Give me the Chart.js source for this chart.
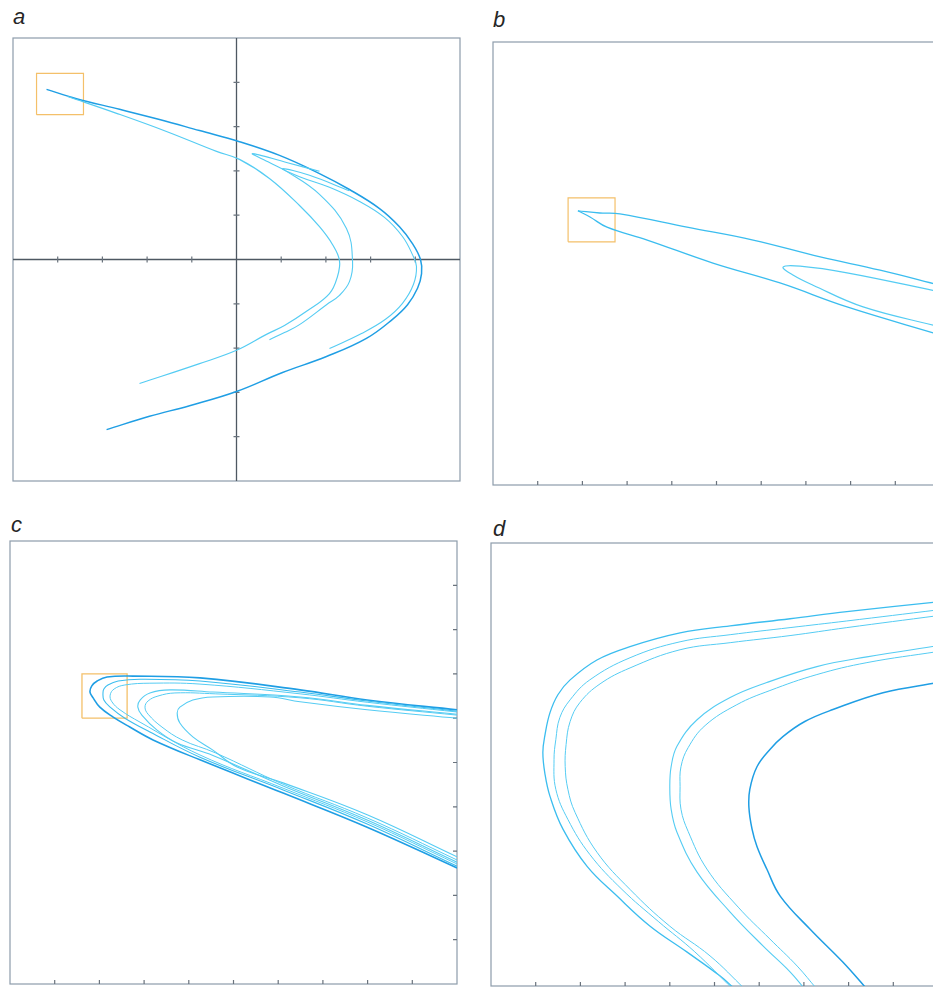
<!DOCTYPE html>
<html>
<head>
<meta charset="utf-8">
<title>Hénon attractor, successive enlargements</title>
<script src="https://cdn.jsdelivr.net/npm/chart.js@4.4.1/dist/chart.umd.min.js"></script>
<style>
  html, body { margin: 0; padding: 0; background: #fff; overflow: hidden; }
  body { width: 933px; height: 990px; position: relative; }
  .panel { position: absolute; width: 459px; height: 455px; }
  .lbl { position: absolute; font-family: "Liberation Sans", Arial, sans-serif; font-style: italic;
         font-size: 22px; line-height: 22px; color: #262626; }
</style>
</head>
<body>
<div class="lbl" style="left:13px;top:6px">a</div>
<div class="lbl" style="left:493px;top:9px">b</div>
<div class="lbl" style="left:11px;top:514px">c</div>
<div class="lbl" style="left:493px;top:518px">d</div>

<div class="panel" style="left:7px;top:32px"><canvas id="chartA"></canvas></div>
<div class="panel" style="left:487px;top:36px"><canvas id="chartB"></canvas></div>
<div class="panel" style="left:4px;top:535px"><canvas id="chartC"></canvas></div>
<div class="panel" style="left:485px;top:537px"><canvas id="chartD"></canvas></div>

<script>
// panel a: whole attractor (x, y)
const aOuter = [[-1.275,0.384],[-1.074,0.363],[-0.785,0.339],[-0.517,0.316],[-0.248,0.291],[0.020,0.266],
  [0.289,0.235],[0.557,0.194],[0.758,0.158],[0.960,0.115],[1.094,0.074],[1.181,0.036],[1.235,0.000],
  [1.242,-0.032],[1.215,-0.065],[1.148,-0.102],[1.047,-0.135],[0.872,-0.178],[0.604,-0.219],[0.309,-0.255],
  [0.000,-0.298],[-0.315,-0.330],[-0.584,-0.354],[-0.872,-0.384]];
const aOuter2 = [[0.758,0.155],[0.490,0.190],[0.309,0.205],[0.423,0.187],[0.624,0.163],[0.826,0.131],
  [0.993,0.095],[1.114,0.052],[1.181,0.011],[1.208,-0.016],[1.188,-0.056],[1.114,-0.099],[1.000,-0.135],
  [0.839,-0.167],[0.624,-0.201]];
const aMid = [[0.557,0.199],[0.336,0.219],[0.107,0.239],[0.221,0.219],[0.336,0.199],[0.557,0.147],
  [0.738,0.070],[0.779,-0.005],[0.758,-0.050],[0.691,-0.081],[0.604,-0.102],[0.423,-0.147],[0.322,-0.165],
  [0.221,-0.181]];
const aInner = [[-1.134,0.368],[-0.805,0.330],[-0.470,0.289],[-0.134,0.244],[0.020,0.226],[0.221,0.183],
  [0.423,0.122],[0.557,0.074],[0.644,0.034],[0.691,-0.002],[0.678,-0.038],[0.624,-0.077],[0.470,-0.117],
  [0.322,-0.149],[0.201,-0.169],[0.000,-0.205],[-0.248,-0.235],[-0.651,-0.280]];
const aBox = [[-1.342,0.327],[-1.027,0.327],[-1.027,0.420],[-1.342,0.420],[-1.342,0.327]];
const aTicksX = [-1.2,-0.9,-0.6,-0.3,0.3,0.6,0.9,1.2];
const aTicksY = [-0.4,-0.3,-0.2,-0.1,0.1,0.2,0.3,0.4];

// panel b: enlargement of the box in a (frame units 0..10)
const bUpper = [[1.90,6.19],[2.39,6.14],[2.84,6.12],[4.34,5.82],[5.82,5.53],[7.32,5.15],[8.66,4.85],[10.0,4.51]];
const bLower = [[1.90,6.19],[2.17,6.05],[2.55,5.82],[3.45,5.53],[4.92,5.01],[6.42,4.56],[7.92,4.02],[10.0,3.39]];
const bFold = [[10.0,4.36],[7.92,4.79],[6.87,4.94],[6.49,4.92],[6.71,4.74],[7.16,4.51],[8.28,4.02],[10.0,3.57]];
const bBox = [[1.68,5.49],[2.73,5.49],[2.73,6.48],[1.68,6.48],[1.68,5.49]];
const bTicksX = [1,2,3,4,5,6,7,8,9];

// panel c: enlargement of the box in b
const c1 = [[10,6.19],[7.99,6.41],[6.49,6.64],[4.25,6.91],[2.75,6.95],[2.17,6.93],[1.95,6.84],[1.83,6.73],
  [1.79,6.59],[1.86,6.46],[2.01,6.25],[2.30,6.03],[2.68,5.80],[3.20,5.51],[4.25,5.06],[6.11,4.31],[7.99,3.54],[10,2.62]];
const c2 = [[10,6.16],[7.99,6.39],[6.49,6.59],[4.25,6.84],[2.91,6.88],[2.42,6.84],[2.19,6.75],[2.10,6.66],
  [2.08,6.57],[2.10,6.41],[2.24,6.25],[2.57,6.00],[3.13,5.69],[4.25,5.12],[6.11,4.38],[7.99,3.61],[10,2.66]];
const c3 = [[10,6.14],[7.99,6.36],[6.49,6.55],[4.25,6.77],[3.13,6.79],[2.57,6.75],[2.33,6.66],[2.24,6.52],
  [2.28,6.37],[2.46,6.19],[2.91,5.91],[4.25,5.17],[6.11,4.42],[7.99,3.66],[10,2.71]];
const c4 = [[10,6.09],[7.99,6.29],[6.49,6.48],[4.54,6.59],[3.58,6.64],[3.13,6.57],[2.91,6.41],[2.86,6.25],
  [2.95,6.07],[3.29,5.73],[3.74,5.44],[4.54,5.16],[6.11,4.47],[7.99,3.70],[10,2.75]];
const c5 = [[10,6.07],[7.99,6.27],[6.49,6.46],[4.59,6.55],[3.69,6.57],[3.31,6.50],[3.09,6.39],[3.02,6.25],
  [3.09,6.09],[3.40,5.80],[3.85,5.51],[4.59,5.22],[6.11,4.51],[7.99,3.75],[10,2.80]];
const c6 = [[10,6.00],[7.99,6.19],[6.49,6.37],[5.82,6.48],[4.54,6.48],[4.09,6.41],[3.80,6.25],[3.74,6.12],
  [3.80,5.89],[4.09,5.58],[4.54,5.28],[5.08,4.90],[6.11,4.54],[7.99,3.82],[10,2.87]];
const cBox = [[1.61,6.00],[2.62,6.00],[2.62,7.00],[1.61,7.00],[1.61,6.00]];
const cTicksX = [1,2,3,4,5,6,7,8,9];
const cTicksY = [1,2,3,4,5,6,7,8,9];

// panel d: enlargement of the box in c
const dOuter1 = [[10,8.67],[7.96,8.45],[6.69,8.29],[5.35,8.13],[4.23,7.97],[3.11,7.66],[2.37,7.36],[1.77,6.91],
  [1.50,6.58],[1.32,6.17],[1.21,5.68],[1.16,5.27],[1.21,4.77],[1.32,4.28],[1.61,3.54],[2.15,2.70],[2.82,2.03],
  [3.56,1.35],[4.38,0.77],[5.12,0.23],[5.46,-0.07]];
const dOuter2 = [[10,8.49],[7.96,8.24],[6.69,8.09],[5.35,7.93],[4.23,7.77],[3.11,7.41],[2.21,6.91],[1.77,6.46],
  [1.54,6.06],[1.45,5.56],[1.41,5.11],[1.45,4.44],[1.72,3.76],[2.21,2.97],[2.93,2.18],[3.74,1.46],[4.56,0.77],[5.41,-0.07]];
const dOuter3 = [[10,8.36],[7.96,8.09],[6.69,7.91],[5.35,7.75],[4.23,7.59],[3.11,7.18],[2.44,6.82],[1.99,6.40],
  [1.77,5.97],[1.68,5.45],[1.66,4.95],[1.72,4.44],[1.88,3.92],[2.37,3.02],[3.11,2.18],[4.00,1.35],[4.90,0.68],[5.68,-0.07]];
const dMid1 = [[10,7.68],[8.41,7.43],[7.29,7.21],[6.17,6.85],[5.35,6.51],[4.61,6.01],[4.16,5.41],[4.03,4.95],
  [4.00,4.50],[4.03,3.99],[4.16,3.47],[4.61,2.57],[5.35,1.67],[6.09,0.90],[6.69,0.32],[7.02,-0.07]];
const dMid2 = [[10,7.55],[8.41,7.30],[7.29,7.03],[6.24,6.67],[5.50,6.35],[4.79,5.88],[4.41,5.38],[4.25,4.95],
  [4.23,4.50],[4.25,3.99],[4.41,3.49],[4.83,2.64],[5.53,1.78],[6.24,1.06],[6.85,0.45],[7.29,-0.07]];
const dInner = [[10,6.85],[8.77,6.62],[7.65,6.24],[7.02,5.97],[6.53,5.63],[6.24,5.34],[5.95,4.95],[5.79,4.44],
  [5.77,4.03],[5.84,3.54],[5.95,3.15],[6.17,2.64],[6.47,2.03],[7.14,1.28],[7.87,0.54],[8.41,-0.07]];
const dTicksX = [1,2,3,4,5,6,7,8,9];

const DARK = '#1f9ee4';
const MID = '#3bbdef';
const LIGHT = '#55ccf3';
const BOX = '#f4c06a';
const FRAME = '#8d9cab';
const AXIS = '#4e5862';
const TICK = '#6a737d';

function line(pts, color, width, tension = 0.4) {
  return {
    data: pts.map(p => ({ x: p[0], y: p[1] })),
    showLine: true, borderColor: color, borderWidth: width,
    pointRadius: 0, tension: tension, fill: false
  };
}

// frame, axes through the origin and the little tick marks
const panelDeco = {
  id: 'panelDeco',
  beforeDatasetsDraw(chart, args, opts) {
    const { ctx, chartArea: ca, scales: { x, y } } = chart;
    ctx.save();
    ctx.strokeStyle = FRAME;
    ctx.lineWidth = 1.2;
    ctx.strokeRect(ca.left, ca.top, ca.right - ca.left, ca.bottom - ca.top);
    if (opts.zeroAxes) {
      const x0 = x.getPixelForValue(0), y0 = y.getPixelForValue(0);
      ctx.strokeStyle = AXIS;
      ctx.lineWidth = 1.3;
      ctx.beginPath();
      ctx.moveTo(ca.left, y0); ctx.lineTo(ca.right, y0);
      ctx.moveTo(x0, ca.top); ctx.lineTo(x0, ca.bottom);
      ctx.stroke();
    }
    ctx.strokeStyle = TICK;
    ctx.lineWidth = 1.2;
    (opts.ticks || []).forEach(t => {
      ctx.beginPath();
      t.values.forEach(v => {
        const both = t.at === 'zero' ? t.len : 0;
        if (t.axis === 'x') {
          const px = x.getPixelForValue(v);
          const base = t.at === 'zero' ? y.getPixelForValue(0) : ca.bottom;
          ctx.moveTo(px, base - t.len); ctx.lineTo(px, base + both);
        } else {
          const py = y.getPixelForValue(v);
          const base = t.at === 'zero' ? x.getPixelForValue(0) : ca.right;
          ctx.moveTo(base - t.len, py); ctx.lineTo(base + both, py);
        }
      });
      ctx.stroke();
    });
    ctx.restore();
  }
};

function makePanel(id, datasets, xr, yr, deco) {
  return new Chart(document.getElementById(id), {
    type: 'scatter',
    data: { datasets: datasets },
    options: {
      responsive: true,
      maintainAspectRatio: false,
      animation: false,
      layout: { padding: 6 },
      plugins: { legend: { display: false }, tooltip: { enabled: false }, panelDeco: deco },
      scales: {
        x: { type: 'linear', min: xr[0], max: xr[1], display: false },
        y: { type: 'linear', min: yr[0], max: yr[1], display: false }
      }
    },
    plugins: [panelDeco]
  });
}

makePanel('chartA', [
  line(aInner, LIGHT, 1.2),
  line(aMid, LIGHT, 1.1),
  line(aOuter2, LIGHT, 1.1),
  line(aOuter, DARK, 1.5),
  line(aBox, BOX, 1.2, 0)
], [-1.5, 1.5], [-0.5, 0.5], {
  zeroAxes: true,
  ticks: [{ axis: 'x', at: 'zero', len: 3, values: aTicksX }, { axis: 'y', at: 'zero', len: 3, values: aTicksY }]
});

makePanel('chartB', [
  line(bUpper, MID, 1.3),
  line(bLower, MID, 1.3),
  line(bFold, LIGHT, 1.2),
  line(bBox, BOX, 1.2, 0)
], [0, 10], [0, 10], {
  ticks: [{ axis: 'x', at: 'bottom', len: 4, values: bTicksX }]
});

makePanel('chartC', [
  line(c6, LIGHT, 1.1),
  line(c5, LIGHT, 1.0),
  line(c4, LIGHT, 1.1),
  line(c3, LIGHT, 1.0),
  line(c2, MID, 1.1),
  line(c1, DARK, 1.6),
  line(cBox, BOX, 1.3, 0)
], [0, 10], [0, 10], {
  ticks: [{ axis: 'x', at: 'bottom', len: 4, values: cTicksX }, { axis: 'y', at: 'right', len: 4, values: cTicksY }]
});

makePanel('chartD', [
  line(dOuter3, LIGHT, 1.0),
  line(dOuter2, LIGHT, 1.0),
  line(dOuter1, MID, 1.3),
  line(dMid2, LIGHT, 1.0),
  line(dMid1, LIGHT, 1.1),
  line(dInner, DARK, 1.5)
], [0, 10], [0, 10], {
  ticks: [{ axis: 'x', at: 'bottom', len: 4, values: dTicksX }]
});
</script>
</body>
</html>
